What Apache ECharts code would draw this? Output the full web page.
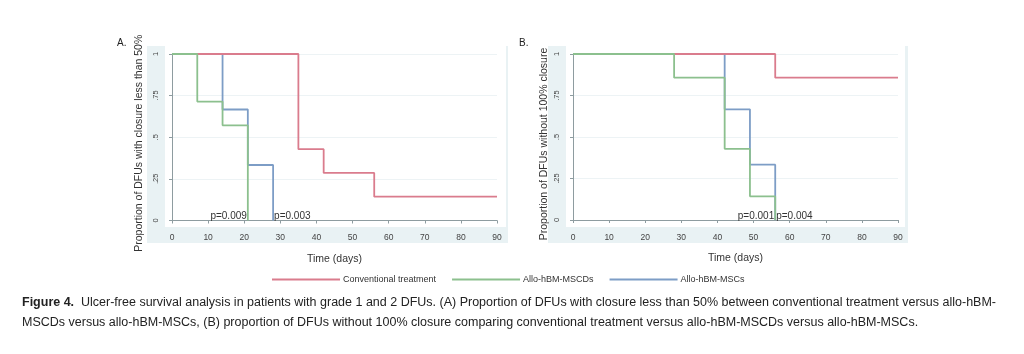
<!DOCTYPE html>
<html style="height: 100%">
<head>
    <meta charset="utf-8">
</head>
<body style="height: 100%; margin: 0; background: #fff">
<div id="container" style="width: 1024px; height: 354px"></div>
<script type="text/javascript" src="https://cdn.jsdelivr.net/npm/echarts@6/dist/echarts.min.js"></script>
<script type="text/javascript">
// step points [day, proportion]
var seriesNames = ['Conventional treatment', 'Allo-hBM-MSCDs', 'Allo-hBM-MSCs'];
var aConventional = [[0, 1], [35, 0.4286], [42, 0.2857], [56, 0.1429], [90, 0.1429]];
var aMSCDs = [[0, 1], [7, 0.7143], [14, 0.5714], [21, 0]];
var aMSCs = [[0, 1], [14, 0.6667], [21, 0.3333], [28, 0]];
var bConventional = [[0, 1], [56, 0.8571], [90, 0.8571]];
var bMSCDs = [[0, 1], [28, 0.8571], [42, 0.4286], [49, 0.1429], [56, 0]];
var bMSCs = [[0, 1], [42, 0.6667], [49, 0.3333], [56, 0]];
var yTickLabels = {'0': '0', '0.25': '.25', '0.5': '.5', '0.75': '.75', '1': '1'};
var pValuesA = [['p=0.009', 21, 'left'], ['p=0.003', 28, 'right']];
var pValuesB = [['p=0.001', 56, 'left'], ['p=0.004', 56, 'right']];

var colors = {
    'Conventional treatment': '#da7c8d',
    'Allo-hBM-MSCDs': '#8cc08e',
    'Allo-hBM-MSCs': '#7d9dc6'
};
var bgBlue = '#e9f2f4';
var labelFont = 'Liberation Sans, Arial, sans-serif';

var dom = document.getElementById('container');
var myChart = echarts.init(dom);

function xAxisFor(idx) {
    return {
        gridIndex: idx, type: 'value', min: 0, max: 90, interval: 10,
        offset: 6,
        name: 'Time (days)', nameLocation: 'middle', nameGap: 27,
        nameTextStyle: {fontSize: 10.5, color: '#333', fontFamily: labelFont},
        axisLine: {lineStyle: {color: '#8e9ca0', width: 1}},
        axisTick: {length: 3, lineStyle: {color: '#8e9ca0'}},
        axisLabel: {fontSize: 8.5, color: '#444', margin: 7, fontFamily: labelFont},
        splitLine: {show: false}
    };
}
function yAxisFor(idx, name, gap, shift) {
    return {
        gridIndex: idx, type: 'value', min: 0, max: 1, interval: 0.25,
        offset: 7,
        name: name, nameLocation: 'middle', nameGap: gap,
        nameTextStyle: {fontSize: 10.5, color: '#333', fontFamily: labelFont, padding: [0, shift, 0, 0]},
        axisLine: {show: true, lineStyle: {color: '#8e9ca0', width: 1}},
        axisTick: {show: true, length: 3, lineStyle: {color: '#8e9ca0'}},
        axisLabel: {
            fontSize: 7.5, color: '#444', rotate: 90, margin: 5, fontFamily: labelFont,
            formatter: function (v) { return yTickLabels[String(v)]; }
        },
        splitLine: {show: true, lineStyle: {color: '#edf3f5', width: 1}}
    };
}
function stepSeries(name, idx, data) {
    return {
        name: name, type: 'line', step: 'end',
        xAxisIndex: idx, yAxisIndex: idx,
        data: data, symbol: 'none', animation: false,
        lineStyle: {color: colors[name], width: 1.8},
        itemStyle: {color: colors[name]}
    };
}
function pValueSeries(idx, pvals) {
    return {
        type: 'scatter', xAxisIndex: idx, yAxisIndex: idx, data: [], silent: true,
        markPoint: {
            symbol: 'circle', symbolSize: 0,
            data: pvals.map(function (p) {
                return {
                    coord: [p[1], 0],
                    label: {
                        show: true, formatter: p[0], position: p[2], distance: 1,
                        offset: [0, -4], fontSize: 10, color: '#333', fontFamily: labelFont
                    }
                };
            })
        }
    };
}

var option = {
    animation: false,
    graphic: [
        {type: 'rect', shape: {x: 147, y: 46, width: 361, height: 197}, style: {fill: bgBlue}, z: -10},
        {type: 'rect', shape: {x: 165, y: 46, width: 341, height: 181}, style: {fill: '#fff'}, z: -9},
        {type: 'rect', shape: {x: 548, y: 46, width: 360, height: 197}, style: {fill: bgBlue}, z: -10},
        {type: 'rect', shape: {x: 566, y: 46, width: 339, height: 181}, style: {fill: '#fff'}, z: -9},
        {type: 'text', left: 117, top: 38, style: {text: 'A.', fontSize: 10, fill: '#222', fontFamily: labelFont}},
        {type: 'text', left: 519, top: 38, style: {text: 'B.', fontSize: 10, fill: '#222', fontFamily: labelFont}},
        {
            type: 'text', left: 22, top: 293,
            style: {
                text: '{b|Figure 4.}  Ulcer-free survival analysis in patients with grade 1 and 2 DFUs. (A) Proportion of DFUs with closure less than 50% between conventional treatment versus allo-hBM-\nMSCDs versus allo-hBM-MSCs, (B) proportion of DFUs without 100% closure comparing conventional treatment versus allo-hBM-MSCDs versus allo-hBM-MSCs.',
                font: '12.5px "Liberation Sans", Arial, sans-serif',
                fill: '#222', lineHeight: 20,
                rich: {b: {fontWeight: 'bold', fontSize: 12.5, fontFamily: '"Liberation Sans", Arial, sans-serif'}}
            }
        }
    ],
    legend: {
        left: 267, top: 270,
        icon: 'rect', itemWidth: 68, itemHeight: 2, itemGap: 16,
        textStyle: {fontSize: 9, color: '#333', fontFamily: labelFont, padding: [0, 0, 0, -2]},
        data: seriesNames
    },
    grid: [
        {left: 172, right: 527, top: 54, height: 166.5},
        {left: 573, right: 126, top: 54, height: 166}
    ],
    xAxis: [xAxisFor(0), xAxisFor(1)],
    yAxis: [
        yAxisFor(0, 'Proportion of DFUs with closure less than 50%', 20, 12),
        yAxisFor(1, 'Proportion of DFUs without 100% closure', 16, 14)
    ],
    series: [
        stepSeries('Allo-hBM-MSCs', 0, aMSCs),
        stepSeries('Conventional treatment', 0, aConventional),
        stepSeries('Allo-hBM-MSCDs', 0, aMSCDs),
        stepSeries('Allo-hBM-MSCs', 1, bMSCs),
        stepSeries('Conventional treatment', 1, bConventional),
        stepSeries('Allo-hBM-MSCDs', 1, bMSCDs),
        pValueSeries(0, pValuesA),
        pValueSeries(1, pValuesB)
    ]
};

myChart.setOption(option);
</script>
</body>
</html>
